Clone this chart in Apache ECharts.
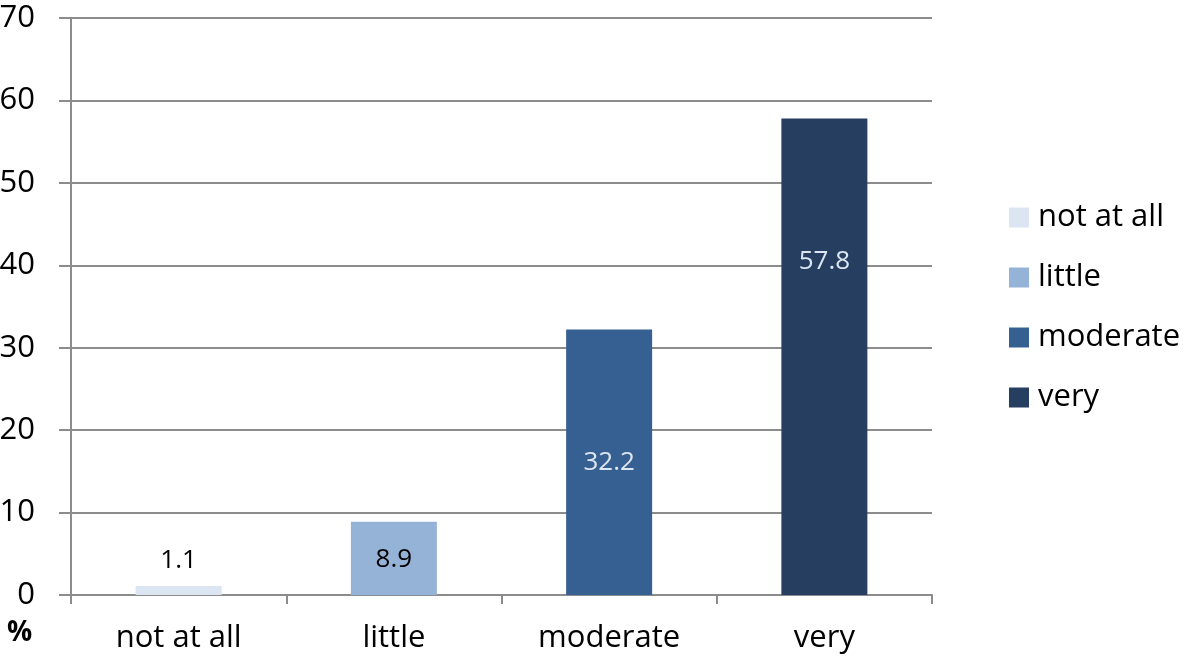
<!DOCTYPE html>
<html>
<head>
<meta charset="utf-8">
<script src="https://cdn.jsdelivr.net/npm/echarts@6/dist/echarts.min.js"></script>
<style>
  html, body { margin: 0; padding: 0; background: #fff; }
  #chart { width: 1184px; height: 660px; }
</style>
</head>
<body>
<div id="chart"></div>
<script>
const categories = ['not at all', 'little', 'moderate', 'very']
const values = [1.1, 8.9, 32.2, 57.8]
const colors = ['#dce6f2', '#95b3d7', '#376092', '#263f61']
const yTicks = [0, 10, 20, 30, 40, 50, 60, 70]

// label placement per bar, as in the original
const labelStyles = [
  { position: 'top', distance: 12, color: '#000' },
  { position: 'insideTop', distance: 25, color: '#000' },
  { position: 'inside', color: '#dce6f2' },
  { position: 'inside', offset: [0, -95], color: '#dce6f2' }
]

const font = '"Open Sans", "Noto Sans", sans-serif'
const chart = echarts.init(document.getElementById('chart'))

const series = categories.map((name, i) => ({
  name,
  type: 'bar',
  stack: 'all',
  barWidth: 86,
  itemStyle: { color: colors[i] },
  label: {
    show: true,
    fontFamily: font,
    fontSize: 26,
    formatter: p => p.value.toFixed(1),
    ...labelStyles[i]
  },
  data: categories.map((c, j) => (j === i ? values[i] : '-'))
}))

chart.setOption({
  animation: false,
  grid: { left: 71, right: 252, top: 18, bottom: 65, outerBoundsMode: 'none' },
  legend: {
    orient: 'vertical',
    left: 1004,
    top: 197,
    itemWidth: 20,
    itemHeight: 20,
    itemGap: 29,
    icon: 'rect',
    textStyle: { fontFamily: font, fontSize: 31, lineHeight: 31, color: '#000', padding: [0, 0, 0, 4] },
    data: categories
  },
  xAxis: {
    type: 'category',
    data: categories,
    axisLine: { lineStyle: { color: '#8c8c8c', width: 2 } },
    axisTick: { show: true, length: 9, alignWithLabel: false, lineStyle: { color: '#8c8c8c', width: 2 } },
    axisLabel: { fontFamily: font, fontSize: 31, color: '#000', margin: 28 }
  },
  yAxis: {
    type: 'value',
    min: 0,
    max: 70,
    interval: 10,
    axisLine: { show: true, lineStyle: { color: '#8c8c8c', width: 2 } },
    axisTick: { show: true, length: 12, lineStyle: { color: '#8c8c8c', width: 2 } },
    splitLine: { lineStyle: { color: '#8c8c8c', width: 2 } },
    axisLabel: {
      fontFamily: font, fontSize: 31, color: '#000', margin: 36,
      formatter: v => (yTicks.includes(v) ? String(v) : '')
    }
  },
  graphic: [{
    type: 'text',
    left: 7,
    top: 619,
    style: { text: '%', fontFamily: font, fontSize: 28, fontWeight: 'bold', fill: '#000' }
  }],
  series
})
</script>
</body>
</html>
